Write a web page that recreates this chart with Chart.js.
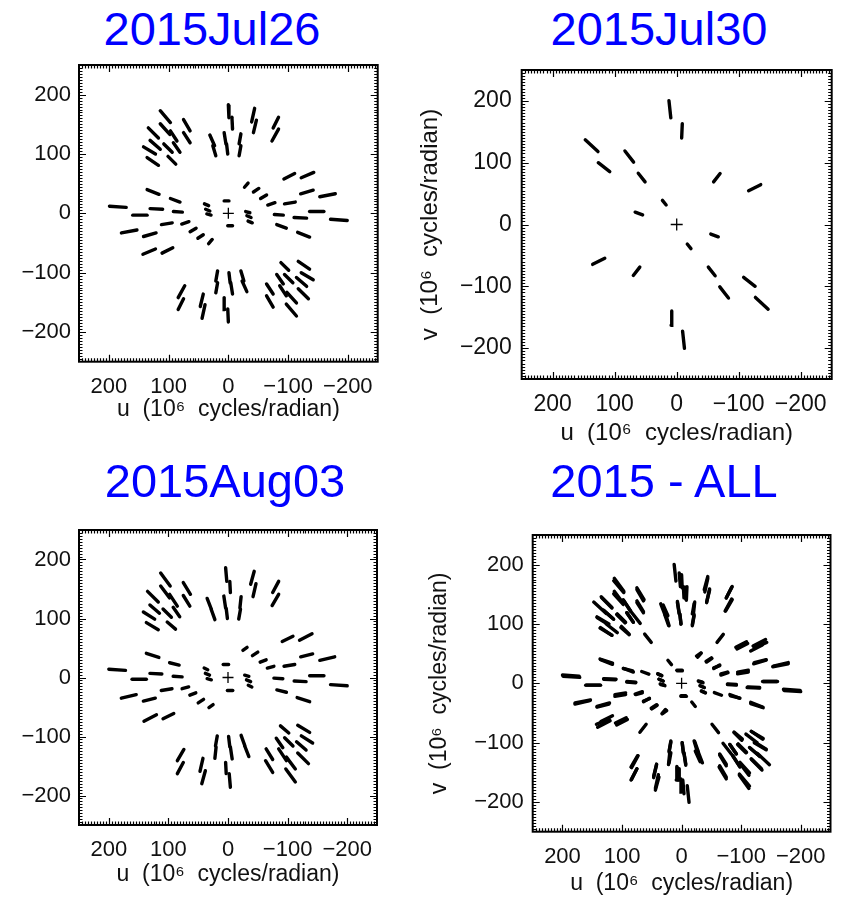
<!DOCTYPE html>
<html>
<head>
<meta charset="utf-8">
<title>uv coverage 2015</title>
<script src="https://cdn.jsdelivr.net/npm/chart.js@4.4.1/dist/chart.umd.min.js"></script>
<style>
  html, body { margin: 0; padding: 0; background: #fff; }
  body { position: relative; width: 847px; height: 898px; overflow: hidden; }
  .panel-title {
    position: absolute; width: 400px; text-align: center;
    font-family: 'Liberation Sans', Arial, sans-serif; font-size: 47px; line-height: 47px;
    color: #0000ff; white-space: nowrap;
  }
  canvas { position: absolute; }
</style>
</head>
<body>

<script>
// axis ticks shared by all four panels (u and v in 10^6 cycles/radian)
const tickValues = [200, 100, 0, -100, -200];
const tickLabels = ['200', '100', '0', '\u2212100', '\u2212200'];
const panelTitles = ['2015Jul26', '2015Jul30', '2015Aug03', '2015 - ALL'];

// each entry is one baseline track: [u1, v1, u2, v2], listed with its conjugate (-u, -v)
const jul26 = [
  [114, 173, 97, 153], [-114, -173, -97, -153],
  [75, 158, 64, 139], [-75, -158, -64, -139],
  [114, 151, 98, 133], [-114, -151, -98, -133],
  [134, 144, 117, 127], [-134, -144, -117, -127],
  [97, 139, 86, 122], [-97, -139, -86, -122],
  [75, 136, 64, 119], [-75, -136, -64, -119],
  [131, 123, 114, 108], [-131, -123, -114, -108],
  [108, 117, 94, 103], [-108, -117, -94, -103],
  [92, 119, 81, 103], [-92, -119, -81, -103],
  [142, 112, 122, 100], [-142, -112, -122, -100],
  [136, 94, 117, 81], [-136, -94, -117, -81],
  [101, 96, 88, 83], [-101, -96, -88, -83],
  [0, 183, -1, 161], [0, -183, 1, -161],
  [-6, 162, -7, 142], [6, -162, 7, -142],
  [31, 132, 23, 114], [-31, -132, -23, -114],
  [26, 114, 21, 97], [-26, -114, -21, -97],
  [7, 136, 4, 117], [-7, -136, -4, -117],
  [3, 117, 1, 100], [-3, -117, -1, -100],
  [-21, 134, -18, 117], [21, -134, 18, -117],
  [-21, 114, -18, 97], [21, -114, 18, -97],
  [-44, 177, -39, 154], [44, -177, 39, -154],
  [-47, 157, -42, 136], [47, -157, 42, -136],
  [-84, 162, -75, 144], [84, -162, 75, -144],
  [-84, 142, -73, 122], [84, -142, 73, -122],
  [-93, 58, -111, 67], [93, -58, 111, -67],
  [-122, 60, -143, 69], [122, -60, 143, -69],
  [-121, 33, -142, 39], [121, -33, 142, -39],
  [-153, 28, -179, 33], [153, -28, 179, -33],
  [-27, 44, -33, 51], [27, -44, 33, -51],
  [-42, 36, -51, 42], [42, -36, 51, -42],
  [-54, 25, -64, 31], [54, -25, 64, -31],
  [-66, 14, -78, 18], [66, -14, 78, -18],
  [-94, 16, -112, 19], [94, -16, 112, -19],
  [-77, -2, -92, -3], [77, 2, 92, 3],
  [-110, -7, -131, -8], [110, 7, 131, 8],
  [-136, 3, -160, 3], [136, -3, 160, -3],
  [-171, -10, -199, -12], [171, 10, 199, 12],
  [-81, -19, -97, -25], [81, 19, 97, 25],
  [-116, -32, -136, -40], [116, 32, 136, 40],
  [7, 21, -1, 21], [-7, -21, 1, -21],
  [40, 16, 33, 13], [-40, -16, -33, -13],
  [38, 7, 31, 4], [-38, -7, -31, -4],
  [36, -1, 29, -3], [-36, 1, -29, 3]
];

const jul30 = [
  [147.5, 137, 127, 118], [-147.5, -137, -127, -118],
  [126.5, 100, 108, 85.5], [-126.5, -100, -108, -85.5],
  [83.5, 119, 69.5, 101], [-83.5, -119, -69.5, -101],
  [62, 83, 51, 69], [-62, -83, -51, -69],
  [23, 39, 17, 31.5], [-23, -39, -17, -31.5],
  [67, 20, 55, 15.5], [-67, -20, -55, -15.5],
  [12.5, 200.5, 9.5, 172.5], [-12.5, -200.5, -9.5, -172.5],
  [-9, 163, -8, 140], [9, -163, 8, -140],
  [-70, 82.5, -59.5, 69], [70, -82.5, 59.5, -69],
  [-135.5, 64.5, -116, 54.5], [135.5, -64.5, 116, -54.5]
];

const aug03 = [
  [113, 177, 97, 155], [-113, -177, -97, -155],
  [75, 161, 63, 141], [-75, -161, -63, -141],
  [113, 155, 98, 135], [-113, -155, -98, -135],
  [135, 146, 117, 128], [-135, -146, -117, -128],
  [98, 141, 85, 121], [-98, -141, -85, -121],
  [75, 139, 64, 121], [-75, -139, -64, -121],
  [131, 123, 115, 109], [-131, -123, -115, -109],
  [109, 116, 95, 102], [-109, -116, -95, -102],
  [92, 119, 81, 103], [-92, -119, -81, -103],
  [142, 111, 123, 99], [-142, -111, -123, -99],
  [137, 93, 117, 81], [-137, -93, -117, -81],
  [102, 94, 88, 82], [-102, -94, -88, -82],
  [4, 186, 2, 163], [-4, -186, -2, -163],
  [-3, 163, -4, 144], [3, -163, 4, -144],
  [35, 134, 28, 116], [-35, -134, -28, -116],
  [28, 115, 22, 98], [-28, -115, -22, -98],
  [7, 138, 4, 118], [-7, -138, -4, -118],
  [3, 117, 1, 100], [-3, -117, -1, -100],
  [-22, 137, -20, 118], [22, -137, 20, -118],
  [-21, 116, -18, 99], [21, -116, 18, -99],
  [-44, 180, -38, 158], [44, -180, 38, -158],
  [-47, 159, -42, 137], [47, -159, 42, -137],
  [-85, 163, -75, 144], [85, -163, 75, -144],
  [-85, 141, -74, 122], [85, -141, 74, -122],
  [-91, 61, -109, 70], [91, -61, 109, -70],
  [-120, 63, -141, 74], [120, -63, 141, -74],
  [-122, 35, -142, 40], [122, -35, 142, -40],
  [-154, 29, -179, 35], [154, -29, 179, -35],
  [-25, 46, -32, 51], [25, -46, 32, -51],
  [-41, 37, -50, 43], [41, -37, 50, -43],
  [-54, 26, -64, 30], [54, -26, 64, -30],
  [-66, 16, -77, 19], [66, -16, 77, -19],
  [-94, 19, -112, 22], [94, -19, 112, -22],
  [-77, -1, -92, -2], [77, 1, 92, 2],
  [-111, -6, -131, -7], [111, 6, 131, 7],
  [-137, 3, -161, 3], [137, -3, 161, -3],
  [-172, -12, -200, -14], [172, 12, 200, 14],
  [-82, -21, -98, -25], [82, 21, 98, 25],
  [-116, -34, -137, -41], [116, 34, 137, 41],
  [8, 22, -1, 22], [-8, -22, 1, -22],
  [40, 16, 34, 13], [-40, -16, -34, -13],
  [38, 7, 31, 4], [-38, -7, -31, -4],
  [35, -2, 28, -4], [-35, 2, -28, 4]
];

// all three epochs together
const all2015 = [...jul26, ...jul30, ...aug03];

const AXIS_MIN = -250, AXIS_MAX = 250;
const MINOR_STEP = 5;
const FONT = "'Liberation Sans', Arial, Helvetica, sans-serif";

// IDL-style frame: box on all four sides with inward major/minor ticks
const frameTicks = {
  id: 'frameTicks',
  afterDatasetsDraw(chart) {
    const { ctx, chartArea: a, scales: { x, y } } = chart;
    ctx.save();
    ctx.strokeStyle = '#000';
    ctx.lineWidth = 1.2;
    ctx.beginPath();
    for (let v = AXIS_MIN + MINOR_STEP; v < AXIS_MAX; v += MINOR_STEP) {
      const len = v % 100 === 0 ? 7 : 3.5;
      const px = Math.round(x.getPixelForValue(v)) + 0.5;
      ctx.moveTo(px, a.bottom); ctx.lineTo(px, a.bottom - len);
      ctx.moveTo(px, a.top); ctx.lineTo(px, a.top + len);
      const py = Math.round(y.getPixelForValue(v)) + 0.5;
      ctx.moveTo(a.left, py); ctx.lineTo(a.left + len, py);
      ctx.moveTo(a.right, py); ctx.lineTo(a.right - len, py);
    }
    ctx.stroke();
    ctx.lineWidth = 2;
    ctx.strokeRect(a.left, a.top, a.right - a.left, a.bottom - a.top);
    ctx.restore();
  }
};

const panels = [
  { title: panelTitles[0], segs: jul26, titleX: 212, titleY: 5,
    left: 0, top: 40, w: 400, h: 400, area: { l: 79, t: 25, r: 377.7, b: 321.7 },
    tickSize: 22, titleSize: 23, yTickPad: 8, xTickPad: 12, xTitlePad: 16.2, yTitle: false, cross: 5.5 },
  { title: panelTitles[1], segs: jul30, titleX: 659, titleY: 5,
    left: 410, top: 45, w: 437, h: 420, area: { l: 111.7, t: 25, r: 421.7, b: 334 },
    tickSize: 23, titleSize: 24, yTickPad: 10, xTickPad: 12.2, xTitlePad: 17.6, yTitle: true, yTitlePad: 5.6, cross: 6 },
  { title: panelTitles[2], segs: aug03, titleX: 225, titleY: 457,
    left: 0, top: 505, w: 400, h: 400, area: { l: 79, t: 25, r: 377, b: 320 },
    tickSize: 22, titleSize: 23, yTickPad: 8, xTickPad: 12, xTitlePad: 16.2, yTitle: false, cross: 5.5 },
  { title: panelTitles[3], segs: all2015, titleX: 664, titleY: 457,
    left: 420, top: 510, w: 427, h: 390, area: { l: 112.7, t: 25, r: 410.5, b: 321.7 },
    tickSize: 22, titleSize: 23, yTickPad: 9, xTickPad: 12, xTitlePad: 2.2, yTitle: true, yTitlePad: 6.2, cross: 5.5 }
];

function tickLabel(value) {
  const i = tickValues.indexOf(value);
  return i < 0 ? '' : tickLabels[i];
}

function setTicks(scale) {
  scale.ticks = tickValues.map(value => ({ value }));
}

function makePanel(p) {
  const head = document.createElement('div');
  head.className = 'panel-title';
  head.style.left = (p.titleX - 200) + 'px';
  head.style.top = p.titleY + 'px';
  head.textContent = p.title;
  document.body.appendChild(head);

  const canvas = document.createElement('canvas');
  canvas.width = p.w;
  canvas.height = p.h;
  canvas.style.left = p.left + 'px';
  canvas.style.top = p.top + 'px';
  document.body.appendChild(canvas);

  const datasets = p.segs.map(s => ({
    data: [{ x: s[0], y: s[1] }, { x: s[2], y: s[3] }],
    showLine: true,
    borderColor: '#000',
    borderWidth: 3.4,
    borderCapStyle: 'round',
    pointRadius: 0
  }));
  // phase centre marker
  datasets.push({
    data: [{ x: 0, y: 0 }],
    pointStyle: 'cross',
    pointRadius: p.cross,
    borderColor: '#000',
    borderWidth: 1.3
  });

  const tickFont = { family: FONT, size: p.tickSize };
  const titleFont = { family: FONT, size: p.titleSize };

  new Chart(canvas, {
    type: 'scatter',
    data: { datasets },
    options: {
      responsive: false,
      animation: false,
      events: [],
      layout: { padding: { left: 0, top: p.area.t, right: p.w - p.area.r, bottom: 0 } },
      plugins: { legend: { display: false }, tooltip: { enabled: false }, title: { display: false } },
      scales: {
        x: {
          type: 'linear', reverse: true, min: AXIS_MIN, max: AXIS_MAX,
          afterBuildTicks: setTicks,
          afterFit: s => { s.height = p.h - p.area.b; },
          grid: { display: false, drawTicks: false },
          border: { display: false },
          ticks: { autoSkip: false, maxRotation: 0, padding: p.xTickPad, color: '#111', font: tickFont, callback: tickLabel },
          title: { display: true, text: 'u  (10\u2076  cycles/radian)', color: '#111', font: titleFont,
                   padding: { top: 0, bottom: p.xTitlePad } }
        },
        y: {
          type: 'linear', min: AXIS_MIN, max: AXIS_MAX,
          afterBuildTicks: setTicks,
          afterFit: s => { s.width = p.area.l; },
          grid: { display: false, drawTicks: false },
          border: { display: false },
          ticks: { autoSkip: false, padding: p.yTickPad, color: '#111', font: tickFont, callback: tickLabel },
          title: { display: p.yTitle, text: 'v  (10\u2076  cycles/radian)', color: '#111', font: titleFont,
                   padding: { top: p.yTitlePad || 0, bottom: 0 } }
        }
      }
    },
    plugins: [frameTicks]
  });
}

panels.forEach(makePanel);
</script>
</body>
</html>
